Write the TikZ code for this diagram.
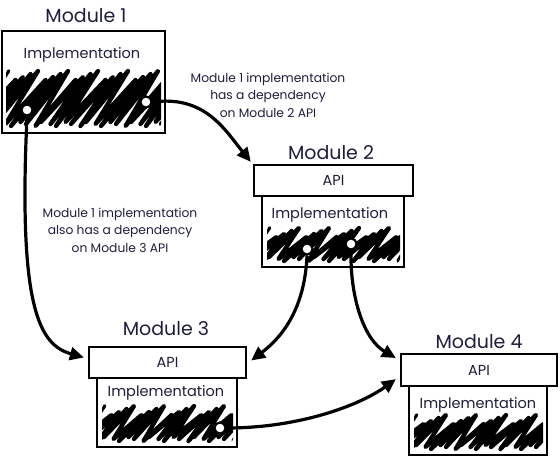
\documentclass[tikz,border=0pt]{standalone}
\usepackage{fontspec}
\setmainfont{Poppins}
\usetikzlibrary{arrows.meta,calc}
\definecolor{txt}{RGB}{30,30,60}
% #1 x0, #2 ytop, #3 ybot, #4 slant, #5 x1
\newcommand\myhatch[5]{%
  \begin{scope}
  \clip[rounded corners=4pt] (#1-2,#2-2) rectangle (#5+2,#3+2);
  \pgfmathtruncatemacro\hn{(#5-#1+#4)/7.5+1}
  \draw[hatchline] (#1-#4,#3) \foreach \i in {0,...,\hn} {
     -- ({#1-#4+7.5*\i+2*mod(\i,2)},{#3-2*mod(\i*5,3)}) -- ({#1+7.5*\i},{#2+3*mod(\i*7,4)}) };
  \end{scope}}
\begin{document}
\begin{tikzpicture}[x=1pt,y=-1pt,
  box/.style={draw, line width=2.3pt, fill=white, inner sep=0pt},
  title/.style={font=\fontsize{19}{21}\selectfont, text=txt},
  intext/.style={font=\fontsize{14.5}{16}\selectfont, text=txt},
  lbl/.style={font=\fontsize{12.3}{17.5}\selectfont, text=txt, align=center},
  hatchline/.style={line width=4.3pt, line cap=round, line join=round},
  port/.style={circle, draw, line width=2pt, fill=white, inner sep=0pt, minimum size=11pt},
  dep/.style={line width=3.2pt, -{Triangle[length=14pt,width=13pt]}}]
\useasboundingbox (0,0) rectangle (560,461);

% Module 1
\node[box, minimum width=163pt, minimum height=102pt] (m1) at (83.5,82) {};
\node[title] (t1) at (86,16) {Module 1};
\node[intext] (i1) at (82,55) {Implementation};
\myhatch{8}{71}{126}{42}{159}

% Module 2
\node[box, minimum width=142pt, minimum height=71pt] (m2impl) at (333,231.5) {};
\node[box, minimum width=159pt, minimum height=31pt] (m2api) at (333.5,180.5) {};
\node[title] (t2) at (331,153) {Module 2};
\node[intext] (a2) at (m2api) {API};
\node[intext] (i2) at (330,215) {Implementation};
\myhatch{269}{228}{261}{30}{398}

% Module 3
\node[box, minimum width=140pt, minimum height=69pt] (m3impl) at (167,412.5) {};
\node[box, minimum width=157pt, minimum height=31pt] (m3api) at (167.5,362.5) {};
\node[title] (t3) at (166,329) {Module 3};
\node[intext] (a3) at (m3api) {API};
\node[intext] (i3) at (166,393) {Implementation};
\myhatch{104}{406}{441}{30}{231}

% Module 4
\node[box, minimum width=138pt, minimum height=69pt] (m4impl) at (478,420.5) {};
\node[box, minimum width=156pt, minimum height=32pt] (m4api) at (479,370) {};
\node[title] (t4) at (479,342) {Module 4};
\node[intext] (a4) at (m4api) {API};
\node[intext] (i4) at (478,405) {Implementation};
\myhatch{416}{415}{449}{30}{541}

% ports
\node[port] (p1a) at (27,110) {};
\node[port] (p1b) at (146,102) {};
\node[port] (p2a) at (307,249) {};
\node[port] (p2b) at (351,244) {};
\node[port] (p3) at (220,428) {};

% labels
\node[lbl] (l1) at (268,95) {Module 1 implementation\\has a dependency\\on Module 2 API};
\node[lbl] (l2) at (120,230) {Module 1 implementation\\also has a dependency\\on Module 3 API};

% dependencies
\draw[dep] (p1b.east) .. controls (205,95) and (225,130) .. ($(m2api.north west)+(-2,-2)$);
\draw[dep] (p1a.south) .. controls (18,310) and (40,345) .. ($(m3api.west)+(-4,-5)$);
\draw[dep] (p2a.south) .. controls (305,305) and (285,335) .. ($(m3api.east)+(4,-2)$);
\draw[dep] (p2b.south) .. controls (350,300) and (365,340) .. ($(m4api.west)+(-4,-12)$);
\draw[dep] (p3.east) .. controls (300,428) and (360,405) .. ($(m4api.south west)+(-4,-8)$);

% redraw ports on top
\node[port] at (p1a) {};
\node[port] at (p1b) {};
\node[port] at (p2a) {};
\node[port] at (p2b) {};
\node[port] at (p3) {};
\end{tikzpicture}
\end{document}
